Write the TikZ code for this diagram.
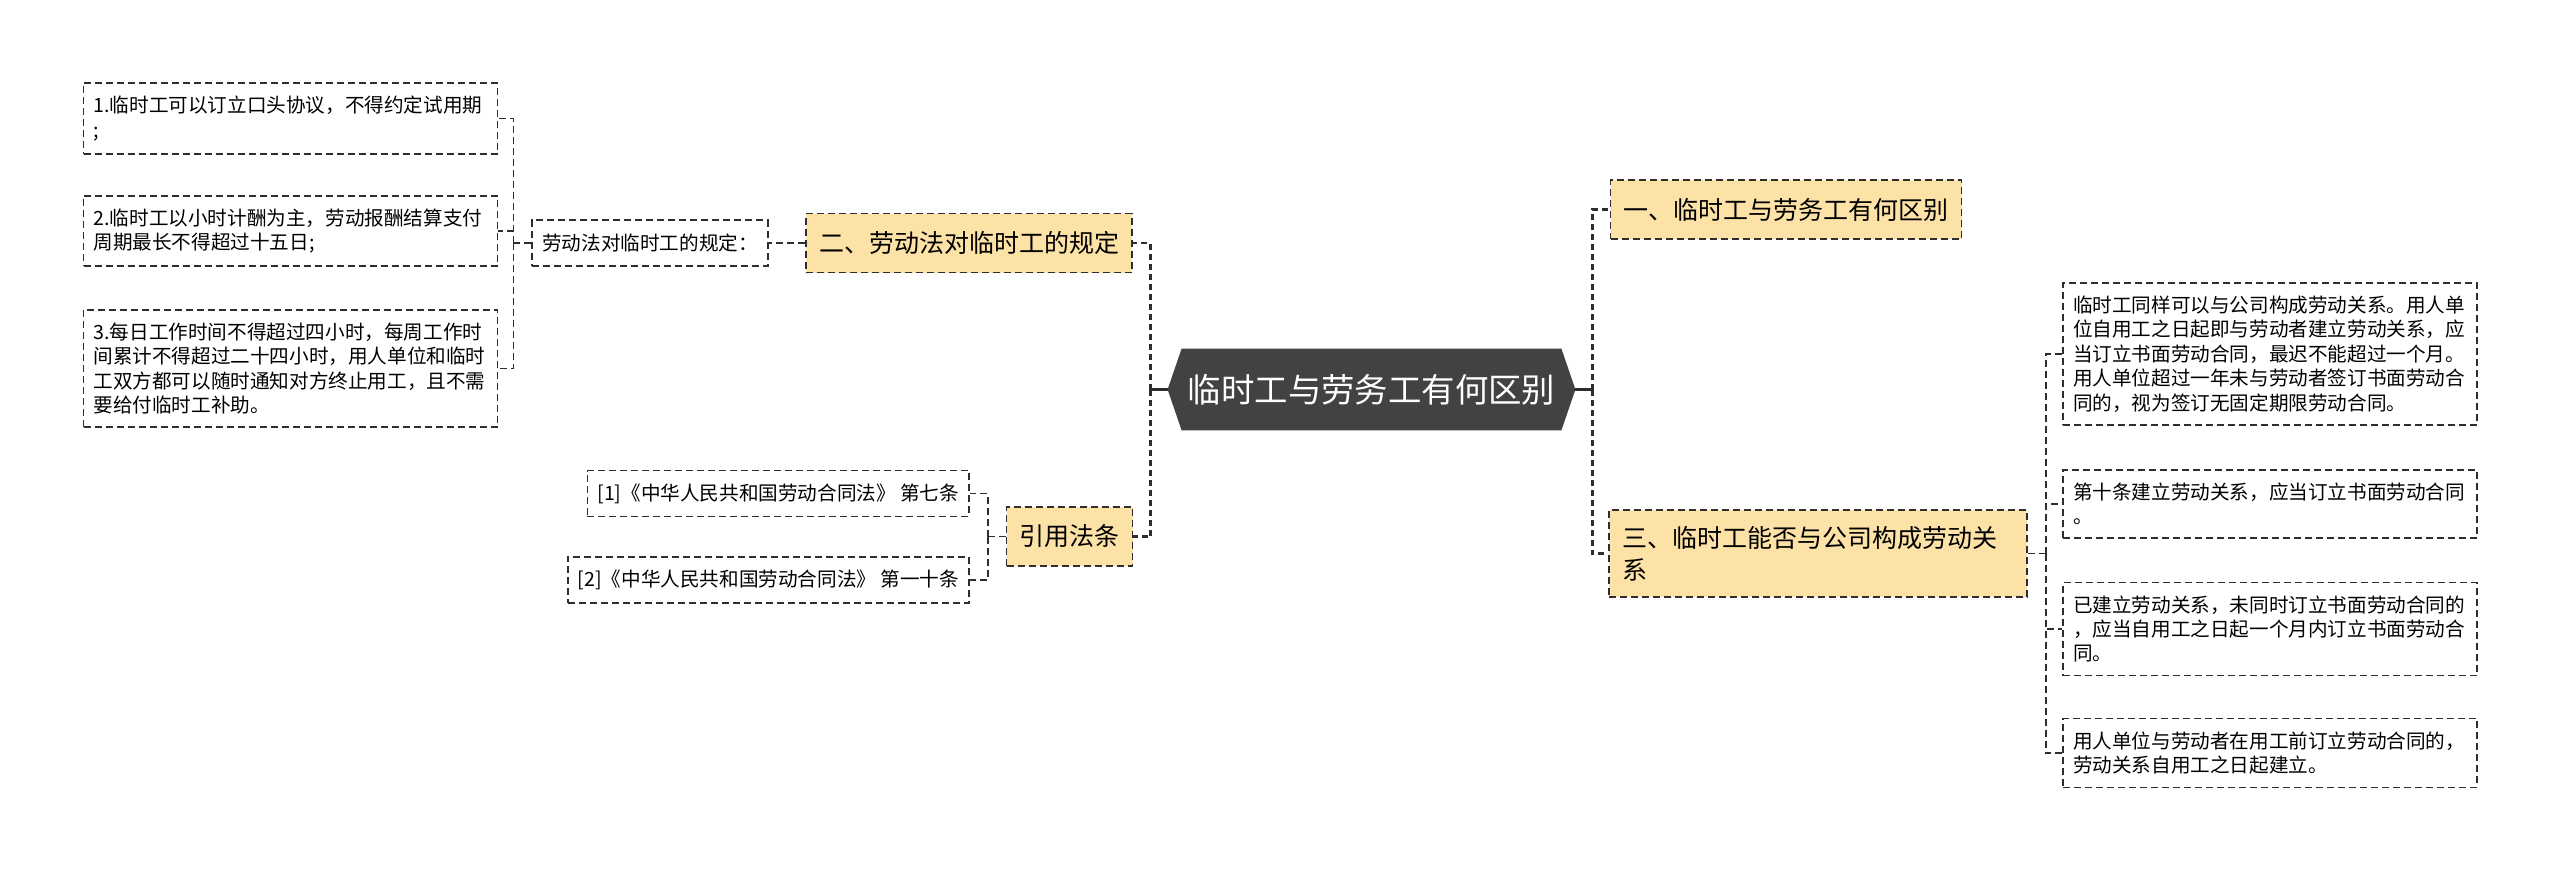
\documentclass[tikz,border=0pt]{standalone}
\usepackage{fontspec}
\setmainfont{Noto Sans CJK SC}
\usetikzlibrary{backgrounds}
\definecolor{topicgray}{HTML}{424242}
\definecolor{mainfill}{HTML}{FDE2A8}
\definecolor{edgegray}{HTML}{2E2E2E}
\begin{document}
\begin{tikzpicture}[
        x=0.5pt, y=-0.5pt,
        topic/.style={rectangle, text=white, font=\fontsize{16.7pt}{20pt}\selectfont, minimum width=189.5pt, minimum height=40.5pt, inner sep=0pt},
        mainbox/.style={rectangle, draw=edgegray, fill=mainfill, line width=0.85pt, dash pattern=on 3.5pt off 2pt, font=\fontsize{12.5pt}{16pt}\selectfont, align=left, inner xsep=6.5pt, inner ysep=8pt, minimum height=29.5pt},
        leaf/.style={rectangle, draw=edgegray, line width=0.85pt, dash pattern=on 3.5pt off 2pt, font=\fontsize{9.8pt}{12.2pt}\selectfont, align=left, inner xsep=5pt, inner ysep=6.5pt, minimum height=23pt},
        wide/.style={leaf, text width=197pt},
        link/.style={draw=edgegray, line width=0.85pt, dash pattern=on 3.5pt off 2pt},
        trunk/.style={draw=edgegray, line width=1.4pt, dash pattern=on 3pt off 2pt},
        stub/.style={draw=edgegray, line width=1.4pt}
    ]
        \useasboundingbox (0,0) rectangle (2560,873);

        % Topic
        \node[topic] (root) at (1371.5,389.5) {临时工与劳务工有何区别};
        \begin{scope}[on background layer]
            \fill[topicgray] (root.north west) -- (root.north east) -- ([xshift=7pt]root.east)
                -- (root.south east) -- (root.south west) -- ([xshift=-7pt]root.west) -- cycle;
        \end{scope}
        \coordinate (rootR) at ([xshift=7pt]root.east);
        \coordinate (rootL) at ([xshift=-7pt]root.west);

        % Right: main branches
        \node[mainbox] (diff) at (1786,209.5) {一、临时工与劳务工有何区别};
        \node[mainbox, text width=196pt] (rel) at (1818,553.5) {三、临时工能否与公司构成劳动关\\系};

        % Right: leaves
        \node[wide] (r1) at (2270,354) {临时工同样可以与公司构成劳动关系。用人单\\位自用工之日起即与劳动者建立劳动关系，应\\当订立书面劳动合同，最迟不能超过一个月。\\用人单位超过一年未与劳动者签订书面劳动合\\同的，视为签订无固定期限劳动合同。};
        \node[wide] (r2) at (2270,504) {第十条建立劳动关系，应当订立书面劳动合同\\。};
        \node[wide] (r3) at (2270,629) {已建立劳动关系，未同时订立书面劳动合同的\\，应当自用工之日起一个月内订立书面劳动合\\同。};
        \node[wide] (r4) at (2270,753) {用人单位与劳动者在用工前订立劳动合同的，\\劳动关系自用工之日起建立。};

        % Left: main branches
        \node[mainbox] (rule) at (969,243) {二、劳动法对临时工的规定};
        \node[mainbox] (cite) at (1069.5,536.5) {引用法条};

        % Left: rules
        \node[leaf] (law) at (650,243) {劳动法对临时工的规定：};
        \node[wide] (l1) at (290.5,118.5) {1.临时工可以订立口头协议，不得约定试用期\\;};
        \node[wide] (l2) at (290.5,231) {2.临时工以小时计酬为主，劳动报酬结算支付\\周期最长不得超过十五日;};
        \node[wide] (l3) at (290.5,368.5) {3.每日工作时间不得超过四小时，每周工作时\\间累计不得超过二十四小时，用人单位和临时\\工双方都可以随时通知对方终止用工，且不需\\要给付临时工补助。};

        % Left: citations
        \node[leaf, anchor=east] (ref1) at (970,493.5) {[1]《中华人民共和国劳动合同法》 第七条};
        \node[leaf, anchor=east] (ref2) at (970,580) {[2]《中华人民共和国劳动合同法》 第一十条};

        \draw[stub] (rootR) -- ++(17,0) coordinate (rj);
        \draw[trunk] (rj) |- (diff.west);
        \draw[trunk] (rj) |- (rel.west);
        \draw[stub] (rootL) -- ++(-17,0) coordinate (lj);
        \draw[trunk] (lj) |- (rule.east);
        \draw[trunk] (lj) |- (cite.east);

        \draw[link] (rel.east) -- ++(18,0) coordinate (relj);
        \draw[link] (relj) |- (r1.west);
        \draw[link] (relj) |- (r2.west);
        \draw[link] (relj) |- (r3.west);
        \draw[link] (relj) |- (r4.west);

        \draw[link] (rule.west) -- (law.east);
        \draw[link] (law.west) -- ++(-18,0) coordinate (lawj);
        \draw[link] (lawj) |- (l1.east);
        \draw[link] (lawj) |- (l2.east);
        \draw[link] (lawj) |- (l3.east);

        \draw[link] (cite.west) -- ++(-18,0) coordinate (citej);
        \draw[link] (citej) |- (ref1.east);
        \draw[link] (citej) |- (ref2.east);
    \end{tikzpicture}
\end{document}
